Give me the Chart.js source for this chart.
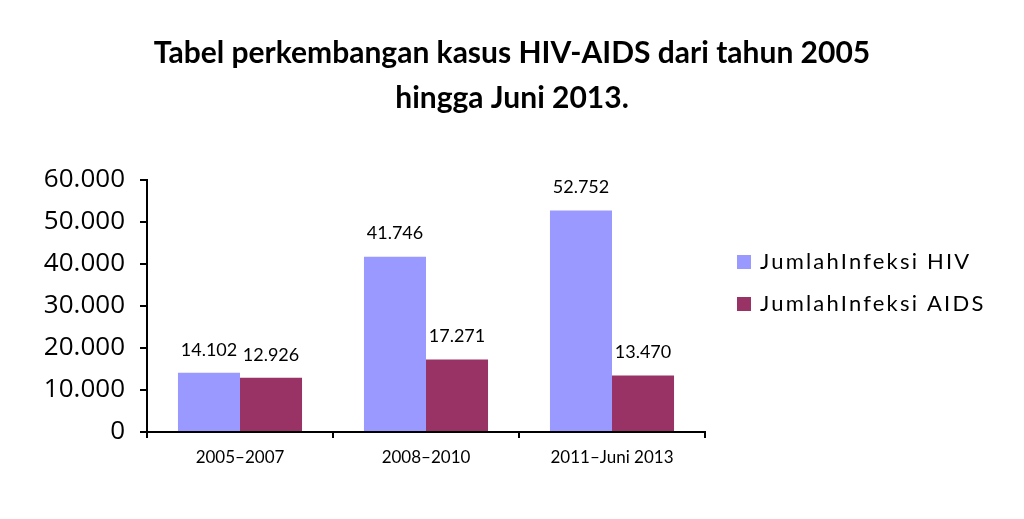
<!DOCTYPE html>
<html>
<head>
<meta charset="utf-8">
<script src="https://cdn.jsdelivr.net/npm/chart.js@4"></script>
<style>
html,body{margin:0;padding:0;background:#fff;}
#wrap{width:1024px;height:519px;position:relative;}
</style>
</head>
<body>
<div id="wrap"><canvas id="c" width="1024" height="519"></canvas></div>
<script>
const titleLines = ["Tabel perkembangan kasus HIV-AIDS dari tahun 2005", "hingga Juni 2013."];
const categories = ["2005\u20132007", "2008\u20132010", "2011\u2013Juni 2013"];
const seriesNames = ["JumlahInfeksi HIV", "JumlahInfeksi AIDS"];
const hivValues = [14102, 41746, 52752];
const aidsValues = [12926, 17271, 13470];
const yTicks = [0, 10000, 20000, 30000, 40000, 50000, 60000];

const fmt = v => v === 0 ? "0" : v.toLocaleString('de-DE');

const titlePlugin = {
  id: 'titleDraw',
  afterDraw(chart) {
    const ctx = chart.ctx;
    ctx.save();
    ctx.fillStyle = '#000';
    ctx.font = 'bold 30px Lato, "Open Sans", sans-serif';
    ctx.textAlign = 'center';
    ctx.textBaseline = 'middle';
    ctx.fillText(titleLines[0], 512, 53);
    ctx.fillText(titleLines[1], 512, 98);
    ctx.restore();
  }
};

const labelPlugin = {
  id: 'valueLabels',
  afterDatasetsDraw(chart) {
    const ctx = chart.ctx;
    ctx.save();
    ctx.fillStyle = '#000';
    ctx.font = '18px Lato, "Open Sans", sans-serif';
    ctx.textAlign = 'center';
    ctx.textBaseline = 'bottom';
    chart.data.datasets.forEach((ds, i) => {
      chart.getDatasetMeta(i).data.forEach((bar, j) => {
        ctx.fillText(fmt(ds.data[j]), bar.x, bar.y - 14);
      });
    });
    ctx.restore();
  }
};

const legendPlugin = {
  id: 'legendDraw',
  afterDraw(chart) {
    const ctx = chart.ctx;
    ctx.save();
    ctx.font = '22px Lato, "Open Sans", sans-serif';
    ctx.textBaseline = 'middle';
    ctx.textAlign = 'left';
    const ys = [262, 304];
    chart.data.datasets.forEach((ds, i) => {
      ctx.fillStyle = ds.backgroundColor;
      ctx.fillRect(737, ys[i] - 7, 14, 14);
      ctx.fillStyle = '#000';
      if (ctx.letterSpacing !== undefined) ctx.letterSpacing = '2.2px';
      ctx.fillText(ds.label, 760, ys[i]);
    });
    ctx.restore();
  }
};

new Chart(document.getElementById('c'), {
  type: 'bar',
  data: {
    labels: categories,
    datasets: [
      { label: seriesNames[0], data: hivValues, backgroundColor: '#9999FF' },
      { label: seriesNames[1], data: aidsValues, backgroundColor: '#993366' }
    ]
  },
  options: {
    responsive: false,
    animation: false,
    devicePixelRatio: 1,
    layout: { padding: { left: 0, right: 319, top: 180, bottom: 0 } },
    datasets: { bar: { categoryPercentage: 0.667, barPercentage: 1.0 } },
    plugins: { legend: { display: false }, title: { display: false }, tooltip: { enabled: false } },
    scales: {
      x: {
        grid: { display: true, drawOnChartArea: false, drawTicks: true, tickLength: 6, color: '#000', lineWidth: 2, offset: true },
        border: { display: true, color: '#000', width: 2 },
        ticks: { color: '#000', font: { size: 17, family: 'Lato, "Open Sans", sans-serif' }, padding: 9 },
        afterFit(s) { s.height = 87; }
      },
      y: {
        min: 0, max: 60000,
        afterBuildTicks(s) { s.ticks = yTicks.map(v => ({ value: v })); },
        grid: { display: true, drawOnChartArea: false, drawTicks: true, tickLength: 7, color: '#000', lineWidth: 2 },
        border: { display: true, color: '#000', width: 2 },
        ticks: { color: '#000', font: { size: 26, family: '"Open Sans", Lato, sans-serif' }, padding: 15, callback: v => fmt(v) },
        afterFit(s) { s.width = 147; }
      }
    }
  },
  plugins: [titlePlugin, labelPlugin, legendPlugin]
});
</script>
</body>
</html>
